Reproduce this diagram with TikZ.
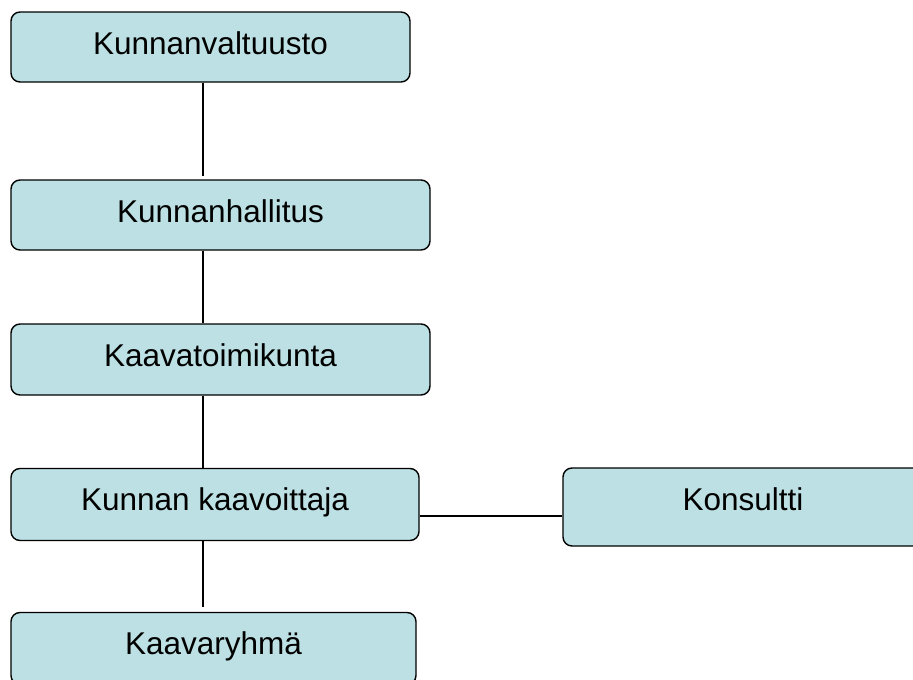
\documentclass[tikz,border=0pt]{standalone}
\usepackage{fontspec}
\setmainfont{Liberation Sans}
\usepackage{tikz}
\definecolor{boxfill}{RGB}{188,224,227}
\tikzset{>=latex}

\begin{document}
\begin{tikzpicture}[x=1pt, y=-1pt]
\tikzset{orgbox/.style={draw=black, line width=1.4pt, rounded corners=9pt, fill=boxfill, inner sep=0pt, font=\fontsize{31.5}{36}\selectfont, text height=42pt, text depth=#1-42pt, minimum height=#1}}
    \useasboundingbox (0,0) rectangle (913,680);
    \clip (0,0) rectangle (913,680);

    \coordinate (spine) at (203,0);
    \coordinate (hline) at (0,516);

    \node[orgbox=70pt, minimum width=399pt] (kv) at (210.5,47) {Kunnanvaltuusto};
    \node[orgbox=70pt, minimum width=419pt] (kh) at (220.5,215) {Kunnanhallitus};
    \node[orgbox=71pt, minimum width=419pt] (kt) at (220.5,359.5) {Kaavatoimikunta};
    \node[orgbox=72pt, minimum width=408pt] (kk) at (215,504.5) {Kunnan kaavoittaja};
    \node[orgbox=72pt, minimum width=405pt] (kr) at (213.5,648.5) {Kaavaryhmä};
% % % % % % % % % % % % % % % % % % %
    \node[orgbox=78pt, minimum width=360pt] (kon) at (743,507) {Konsultti};

    \draw[line width=1.1pt] (kv.south -| spine) -- ([yshift=3pt]kh.north -| spine);
    \draw[line width=1.1pt] (kh.south -| spine) -- (kt.north -| spine);
    \draw[line width=1.1pt] (kt.south -| spine) -- (kk.north -| spine);
    \draw[line width=1.1pt] (kk.south -| spine) -- ([yshift=5pt]kr.north -| spine);
    \draw[line width=1.1pt] (kk.east |- hline) -- (kon.west |- hline);
\end{tikzpicture}
\end{document}
